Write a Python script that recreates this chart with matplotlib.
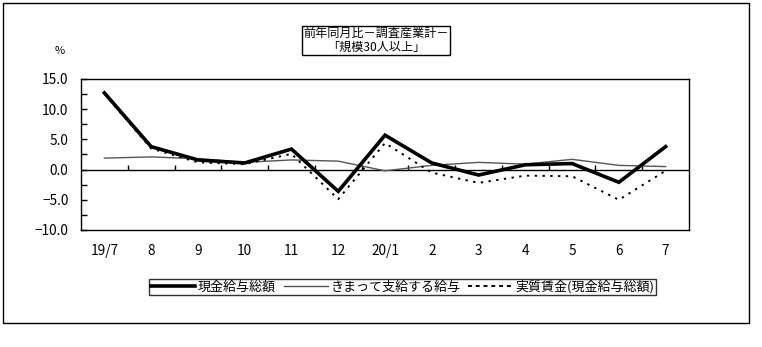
import matplotlib
matplotlib.use("Agg")
import matplotlib.pyplot as plt
import numpy as np
from matplotlib.patches import Rectangle
from matplotlib.ticker import MultipleLocator

plt.rcParams['font.family'] = ['Noto Sans CJK JP', 'DejaVu Sans']

categories = ["19/7", "8", "9", "10", "11", "12", "20/1", "2", "3", "4", "5", "6", "7"]
cash_total = [12.7, 3.8, 1.6, 1.1, 3.4, -3.6, 5.7, 1.1, -0.9, 0.8, 1.0, -2.1, 3.8]
scheduled = [1.9, 2.1, 1.8, 1.2, 1.6, 1.4, -0.2, 0.7, 1.2, 0.9, 1.7, 0.7, 0.5]
real_wage = [12.5, 3.5, 1.2, 0.9, 2.6, -4.9, 4.4, -0.5, -2.2, -1.0, -1.1, -5.0, -0.2]

series_names = ["現金給与総額", "きまって支給する給与", "実質賃金(現金給与総額)"]
title_text = "前年同月比－調査産業計－\n「規模30人以上」"
y_ticks = [-10.0, -5.0, 0.0, 5.0, 10.0, 15.0]

W, H = 762, 347
fig = plt.figure(figsize=(W / 100, H / 100), dpi=100)
fig.patch.set_facecolor('white')

# outer frame
fig.patches.append(Rectangle((3 / W, 1 - 323 / H), 746 / W, 320 / H,
                             transform=fig.transFigure, fill=False,
                             ec='black', lw=1.0))

ax = fig.add_axes([81 / W, 1 - 230 / H, 608 / W, 151 / H])
x = np.arange(len(categories))

l1, = ax.plot(x, cash_total, color='black', lw=2.6, solid_joinstyle='miter', zorder=4)
l2, = ax.plot(x, scheduled, color='#555555', lw=1.0, zorder=3)
l3, = ax.plot(x, real_wage, color='black', lw=1.4, linestyle=(0, (1.2, 2.8)), zorder=3)

ax.set_xlim(-0.5, len(categories) - 0.5)
ax.set_ylim(-10, 15)
ax.axhline(0, color='black', lw=1.0, zorder=2)
ax.vlines(np.arange(0.5, len(categories) - 0.5), 0, 0.7, color='black', lw=1.0, zorder=2)

ax.set_yticks(y_ticks)
ax.set_yticklabels([f"{v:.1f}".replace('-', '−') for v in y_ticks])
ax.yaxis.set_minor_locator(MultipleLocator(2.5))
ax.tick_params(axis='y', which='both', direction='in', length=4, width=1,
               labelsize=9.8, pad=9)
ax.set_xticks(x)
ax.set_xticklabels(categories)
ax.tick_params(axis='x', which='both', length=0, labelsize=9.8, pad=10)
for s in ax.spines.values():
    s.set_linewidth(1.0)
    s.set_color('black')

fig.text(60 / W, 1 - 51 / H, "%", ha='center', va='center', fontsize=8)

fig.text(376 / W, 1 - 40.5 / H, title_text, ha='center', va='center',
         fontsize=8.7, linespacing=1.1,
         bbox=dict(boxstyle='square,pad=0.12', fc='white', ec='black', lw=1.0))

leg = fig.legend([l1, l2, l3], series_names, loc='center',
                 bbox_to_anchor=(402.5 / W, 1 - 287 / H), ncol=3,
                 fontsize=9.4, frameon=True, fancybox=False, handlelength=3.4,
                 handletextpad=0.2, columnspacing=0.6, borderpad=0.12,
                 borderaxespad=0)
leg.get_frame().set_edgecolor('black')
leg.get_frame().set_linewidth(1.0)
leg.legend_handles[2].set_linestyle((0, (2.0, 2.0)))

fig.savefig("out.png", dpi=100)
